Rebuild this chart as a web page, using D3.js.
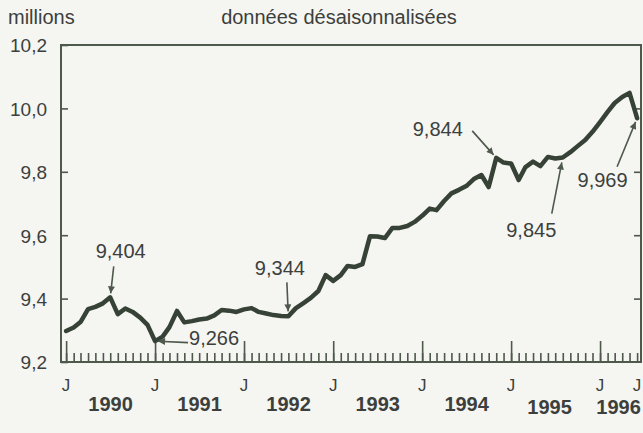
<!DOCTYPE html>
<html>
<head>
<meta charset="utf-8">
<script src="https://cdn.jsdelivr.net/npm/d3@7"></script>
<style>
  html, body { margin: 0; padding: 0; background: #f5f5f2; }
  svg { display: block; font-family: "Liberation Sans", Arial, Helvetica, sans-serif; }
</style>
</head>
<body>
<div id="chart"></div>
<script>
// employment, millions, seasonally adjusted, monthly from January 1990
var firstMonth = new Date(1990, 0, 1);
var employment = [
  9.298, 9.309, 9.326, 9.367, 9.374, 9.385, 9.404, 9.351, 9.369, 9.358, 9.340, 9.317,
  9.266, 9.280, 9.310, 9.361, 9.325, 9.329, 9.334, 9.337, 9.347, 9.364, 9.362, 9.358,
  9.366, 9.370, 9.358, 9.353, 9.348, 9.345, 9.344, 9.370, 9.386, 9.402, 9.424, 9.474,
  9.456, 9.474, 9.503, 9.500, 9.509, 9.597, 9.596, 9.591, 9.623, 9.623, 9.629, 9.642,
  9.661, 9.684, 9.679, 9.708, 9.732, 9.743, 9.755, 9.777, 9.790, 9.752, 9.844, 9.829,
  9.826, 9.774, 9.815, 9.832, 9.818, 9.847, 9.842, 9.845, 9.862, 9.881, 9.900, 9.926,
  9.957, 9.989, 10.017, 10.036, 10.049, 9.969
];
var yTicks = [9.2, 9.4, 9.6, 9.8, 10.0, 10.2];
var yearLabels = ["1990", "1991", "1992", "1993", "1994", "1995", "1996"];
var unitLabel = "millions";
var titleLabel = "données désaisonnalisées";
// months (index into employment) that carry a value callout
var calloutMonths = [6, 12, 30, 58, 67, 77];

var width = 643;
var height = 433;
var plotLeft = 61, plotRight = 641, plotTop = 45, plotBottom = 362;

var ink = "#374236";
var frameInk = "#4e584b";
var textInk = "#3c3f3c";

var frNum = d3.formatLocale({ decimal: ",", thousands: " ", grouping: [3], currency: ["", " €"] });
var fmtTick = frNum.format(".1f");
var fmtValue = frNum.format(".3f");
var frTime = d3.timeFormatLocale({
  dateTime: "%A %e %B %Y à %X", date: "%d/%m/%Y", time: "%H:%M:%S", periods: ["AM", "PM"],
  days: ["dimanche", "lundi", "mardi", "mercredi", "jeudi", "vendredi", "samedi"],
  shortDays: ["dim.", "lun.", "mar.", "mer.", "jeu.", "ven.", "sam."],
  months: ["janvier", "février", "mars", "avril", "mai", "juin", "juillet", "août", "septembre", "octobre", "novembre", "décembre"],
  shortMonths: ["janv.", "févr.", "mars", "avr.", "mai", "juin", "juil.", "août", "sept.", "oct.", "nov.", "déc."]
});
var monthName = frTime.format("%B");

var data = employment.map(function (v, i) {
  return { date: d3.timeMonth.offset(firstMonth, i), value: v };
});
var lastDate = data[data.length - 1].date;

/* Scales */
var x = d3.scaleTime()
  .domain([new Date(1989, 11, 11), new Date(1996, 5, 17)])
  .range([plotLeft, plotRight]);
var y = d3.scaleLinear()
  .domain([9.2, 10.2])
  .range([plotBottom, plotTop]);

var svg = d3.select('#chart').append('svg')
  .attr('width', width)
  .attr('height', height);

svg.append('rect')
  .attr('width', width)
  .attr('height', height)
  .attr('fill', '#f5f5f2');

var defs = svg.append('defs');
defs.append('marker')
  .attr('id', 'arrow')
  .attr('viewBox', '0 0 10 10')
  .attr('refX', 10)
  .attr('refY', 5)
  .attr('markerWidth', 9)
  .attr('markerHeight', 7)
  .attr('markerUnits', 'userSpaceOnUse')
  .attr('orient', 'auto')
  .append('path')
  .attr('d', 'M0,0 L10,5 L0,10 z')
  .attr('fill', frameInk);

/* Header */
svg.append('text')
  .attr('x', 8)
  .attr('y', 24)
  .attr('font-size', 20)
  .attr('fill', textInk)
  .text(unitLabel);
svg.append('text')
  .attr('x', 339)
  .attr('y', 24)
  .attr('text-anchor', 'middle')
  .attr('font-size', 20)
  .attr('fill', textInk)
  .text(titleLabel);

/* Axes: monthly minor ticks, yearly major ticks, inward */
var monthAxis = d3.axisBottom(x)
  .ticks(d3.timeMonth.every(1))
  .tickSize(-9)
  .tickFormat('');
var yearAxis = d3.axisBottom(x)
  .ticks(d3.timeYear.every(1))
  .tickSize(-21)
  .tickFormat('');

var gm = svg.append('g')
  .attr('transform', 'translate(0,' + plotBottom + ')')
  .call(monthAxis);
gm.selectAll('.tick').filter(function (d) { return d > lastDate; }).remove();
var gy = svg.append('g')
  .attr('transform', 'translate(0,' + plotBottom + ')')
  .call(yearAxis);
[gm, gy].forEach(function (g) {
  g.select('.domain').remove();
  g.selectAll('line').attr('stroke', frameInk).attr('stroke-width', 1.6);
});

var leftAxis = d3.axisLeft(y)
  .tickValues(yTicks)
  .tickSize(-7)
  .tickPadding(14)
  .tickFormat(fmtTick);
var gl = svg.append('g')
  .attr('transform', 'translate(' + plotLeft + ',0)')
  .call(leftAxis);
gl.select('.domain').remove();
gl.selectAll('line').attr('stroke', frameInk).attr('stroke-width', 1.6);
gl.selectAll('text')
  .attr('font-size', 19)
  .attr('fill', textInk)
  .attr('dy', '0.36em');
gl.attr('font-family', null).attr('font-size', null);

var rightAxis = d3.axisRight(y)
  .tickValues(yTicks.slice(1, -1))
  .tickSize(-7)
  .tickFormat('');
var gr = svg.append('g')
  .attr('transform', 'translate(' + plotRight + ',0)')
  .call(rightAxis);
gr.select('.domain').remove();
gr.selectAll('line').attr('stroke', frameInk).attr('stroke-width', 1.6);

/* Frame */
svg.append('rect')
  .attr('x', plotLeft)
  .attr('y', plotTop)
  .attr('width', plotRight - plotLeft)
  .attr('height', plotBottom - plotTop)
  .attr('fill', 'none')
  .attr('stroke', frameInk)
  .attr('stroke-width', 2);

/* Month initials under January ticks and the last month */
var labelMonths = d3.timeYear.range(firstMonth, d3.timeDay.offset(lastDate, 1)).concat([lastDate]);
svg.append('g').selectAll('text')
  .data(labelMonths).enter()
  .append('text')
  .attr('x', function (d) { return x(d); })
  .attr('y', 391)
  .attr('text-anchor', 'middle')
  .attr('font-size', 17)
  .attr('fill', textInk)
  .text(function (d) { return monthName(d).charAt(0).toUpperCase(); });

/* Year names centred on the span each year covers */
svg.append('g').selectAll('text')
  .data(yearLabels).enter()
  .append('text')
  .attr('x', function (d) {
    var a = new Date(+d, 0, 1);
    var b = d3.min([new Date(+d + 1, 0, 1), lastDate]);
    var cx = (x(a) + x(b)) / 2;
    return d === '1995' ? cx - 6 : cx;
  })
  .attr('y', function (d) { return +d >= 1995 ? 414 : 411; })
  .attr('text-anchor', 'middle')
  .attr('font-size', 20)
  .attr('font-weight', 'bold')
  .attr('fill', textInk)
  .text(function (d) { return d; });

/* Series line */
var line = d3.line()
  .x(function (d) { return x(d.date); })
  .y(function (d) { return y(d.value); });

svg.append('path')
  .datum(data)
  .attr('d', line)
  .attr('fill', 'none')
  .attr('stroke', ink)
  .attr('stroke-width', 4.5)
  .attr('stroke-linejoin', 'round')
  .attr('stroke-linecap', 'round');

/* Callouts: arrow tail and label placed relative to the point */
var calloutLayout = {
  6:  { tail: [3.5, -31], text: [10.5, -39], anchor: 'middle', gap: 4 },
  12: { tail: [33, 1.5], text: [34, 4], anchor: 'start', gap: 3 },
  30: { tail: [-1.5, -34], text: [-8.5, -41.5], anchor: 'middle', gap: 5 },
  58: { tail: [-24, -27], text: [-58.5, -22], anchor: 'middle', gap: 4 },
  67: { tail: [-11, 56], text: [-31.5, 79], anchor: 'middle', gap: 5 },
  77: { tail: [-20, 48.5], text: [-34.5, 68.5], anchor: 'middle', gap: 4 }
};

var callouts = svg.append('g')
  .selectAll('g')
  .data(calloutMonths).enter()
  .append('g');

callouts.append('line')
  .each(function (i) {
    var lay = calloutLayout[i];
    var px = x(data[i].date), py = y(data[i].value);
    var tx = px + lay.tail[0], ty = py + lay.tail[1];
    var len = Math.sqrt(lay.tail[0] * lay.tail[0] + lay.tail[1] * lay.tail[1]);
    d3.select(this)
      .attr('x1', tx)
      .attr('y1', ty)
      .attr('x2', px + lay.tail[0] / len * lay.gap)
      .attr('y2', py + lay.tail[1] / len * lay.gap);
  })
  .attr('stroke', frameInk)
  .attr('stroke-width', 1.6)
  .attr('marker-end', 'url(#arrow)');

callouts.append('text')
  .attr('x', function (i) { return x(data[i].date) + calloutLayout[i].text[0]; })
  .attr('y', function (i) { return y(data[i].value) + calloutLayout[i].text[1]; })
  .attr('text-anchor', function (i) { return calloutLayout[i].anchor; })
  .attr('font-size', 20)
  .attr('fill', textInk)
  .text(function (i) { return fmtValue(data[i].value); });
</script>
</body>
</html>
